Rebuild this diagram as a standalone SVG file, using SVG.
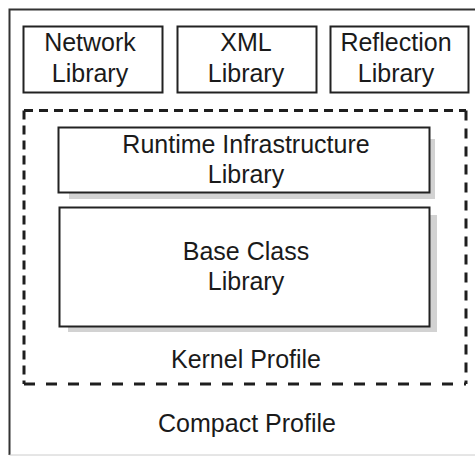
<svg xmlns="http://www.w3.org/2000/svg" width="475" height="456" viewBox="0 0 475 456">
<style>
.box{fill:#fff;stroke:#222;stroke-width:2}
.shadow{fill:#d2d2d2;stroke:none}
.t{font-family:"Liberation Sans",Arial,Helvetica,sans-serif;font-size:25px;fill:#1a1a1a;text-anchor:middle}
.dash{stroke:#1e1e1e;stroke-width:3;fill:none}
</style>
<rect width="475" height="456" fill="#fff"/>
<g id="compact-profile">
<path d="M480 9.5 H9.5 V455" fill="none" stroke="#333" stroke-width="2"/>
<path d="M9.5 455 H480" fill="none" stroke="#ccc" stroke-width="1"/>
<text class="t" x="247" y="432">Compact Profile</text>
</g>
<g id="network-library">
<rect class="box" x="23.5" y="26.5" width="139" height="66"/>
<text class="t" x="90" y="51">Network</text>
<text class="t" x="90" y="82">Library</text>
</g>
<g id="xml-library">
<rect class="box" x="177.5" y="26.5" width="139" height="66"/>
<text class="t" x="246" y="51">XML</text>
<text class="t" x="246" y="82">Library</text>
</g>
<g id="reflection-library">
<rect class="box" x="330.5" y="26.5" width="138" height="66"/>
<text class="t" x="396" y="51">Reflection</text>
<text class="t" x="396" y="82">Library</text>
</g>
<g id="kernel-profile">
<path class="dash" d="M24 110.5 H466" stroke-dasharray="9 6"/>
<path class="dash" d="M24 110.5 V384" stroke-dasharray="9 6"/>
<path class="dash" d="M466 110.5 V384" stroke-dasharray="10 8"/>
<path class="dash" d="M24 384 H466" stroke-dasharray="11 11"/>
<text class="t" x="246" y="368">Kernel Profile</text>
</g>
<g id="runtime-infrastructure-library">
<rect class="shadow" x="69" y="139" width="366" height="60"/>
<rect class="box" x="58.5" y="127.5" width="371" height="65"/>
<text class="t" x="246" y="153">Runtime Infrastructure</text>
<text class="t" x="246" y="183">Library</text>
</g>
<g id="base-class-library">
<rect class="shadow" x="68" y="215" width="369" height="117"/>
<rect class="box" x="59.5" y="207.5" width="370" height="119"/>
<text class="t" x="246" y="260">Base Class</text>
<text class="t" x="246" y="290">Library</text>
</g>
<g id="connectors"></g>
</svg>
